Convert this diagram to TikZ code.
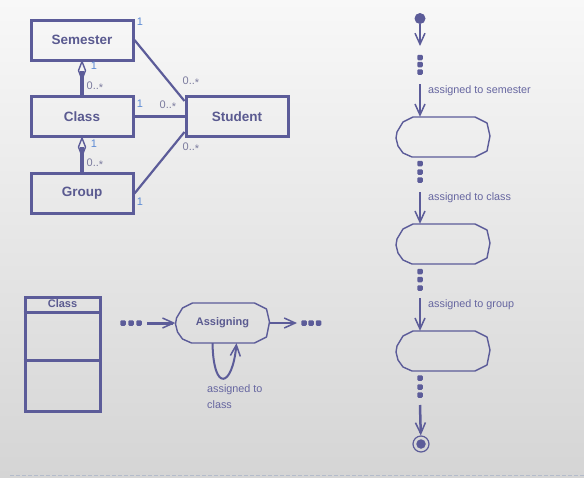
\documentclass[tikz,border=0pt]{standalone}
\usepackage{fontspec}
\setmainfont{Liberation Sans}
\usetikzlibrary{calc,positioning,arrows.meta}
\definecolor{umlline}{HTML}{5C5C99}
\definecolor{umltext}{HTML}{5A5A90}
\definecolor{multone}{HTML}{5B8AD4}
\definecolor{multmany}{HTML}{7B7B9E}
\definecolor{acttext}{HTML}{6666A0}
\definecolor{bgtop}{HTML}{F8F8F8}
\definecolor{bgbot}{HTML}{D5D5D5}
\definecolor{rule}{HTML}{B4BCCB}

\begin{document}
\begin{tikzpicture}[x=1pt,y=-1pt,
  classbox/.style={draw=umlline,line width=3pt,minimum width=102pt,minimum height=40pt,inner sep=0pt,text=umltext,font=\fontsize{13.5}{15}\selectfont\bfseries},
  assoc/.style={draw=umlline,line width=2.2pt},
  aggline/.style={draw=umlline,line width=3.2pt},
  one/.style={text=multone,font=\fontsize{11}{12}\selectfont,inner sep=0pt},
  many/.style={text=multmany,font=\fontsize{11}{12}\selectfont,inner sep=0pt},
  state/.style={minimum width=94pt,minimum height=40pt,inner sep=0pt,text=umltext,font=\fontsize{11}{12}\selectfont\bfseries},
  stateline/.style={draw=umlline,line width=1.4pt,line join=round},
  flow/.style={draw=umlline,line width=2.5pt,-{Straight Barb[length=11pt,width=10pt,line width=1.5pt]}},
  dot/.style={fill=umlline,minimum size=5.5pt,inner sep=0pt,rounded corners=1.2pt},
  actlabel/.style={text=acttext,font=\fontsize{10.8}{16}\selectfont,inner sep=0pt}]
\useasboundingbox (0,0) rectangle (584,477);
\shade[top color=bgtop,bottom color=bgbot] (0,0) rectangle (584,477);
\draw[rule,line width=1pt,dash pattern=on 4pt off 2pt] (10,475) -- (584,475);

% class diagram
\node[classbox] (sem) at (82,40) {Semester};
\node[classbox] (cls) at (82,116.5) {Class};
\node[classbox] (grp) at (82,193.5) {Group};
\node[classbox] (stu) at (237,116.5) {Student};
\draw[assoc] (sem.east) -- ([yshift=-6pt]stu.north west);
\draw[assoc] (cls.east) -- (stu.west);
\draw[assoc] (grp.east) -- ([yshift=6pt]stu.south west);
\draw[aggline] (cls.north) -- ($(sem.south)+(0,9)$);
\draw[stateline] (sem.south) -- ++(3.5,9) -- ++(-3.5,9) -- ++(-3.5,-9) -- cycle;
\draw[aggline] (grp.north) -- ($(cls.south)+(0,9)$);
\draw[stateline] (cls.south) -- ++(3.5,9) -- ++(-3.5,9) -- ++(-3.5,-9) -- cycle;
\node[one] (m1) at (140,22) {1};
\node[one] (m2) at (94,66) {1};
\node[many] (m3) at (95,87) {0..\raisebox{-2pt}{*}};
\node[one] (m4) at (140,104) {1};
\node[many] (m5) at (168,106) {0..\raisebox{-2pt}{*}};
\node[many] (m6) at (191,82) {0..\raisebox{-2pt}{*}};
\node[many] (m7) at (191,148) {0..\raisebox{-2pt}{*}};
\node[one] (m8) at (94,144) {1};
\node[many] (m9) at (95,164) {0..\raisebox{-2pt}{*}};
\node[one] (m10) at (140,202) {1};

% class with compartments
\node[draw=umlline,line width=3pt,minimum width=75pt,minimum height=114pt] (cbox) at (62.5,354) {};
\draw[draw=umlline,line width=3pt] ($(cbox.north west)+(0,17)$) -- ($(cbox.north east)+(0,17)$);
\draw[draw=umlline,line width=3pt] ($(cbox.north west)+(0,65)$) -- ($(cbox.north east)+(0,65)$);
\node[text=umltext,font=\fontsize{11}{12}\selectfont\bfseries,inner sep=0pt] (ctitle) at ($(cbox.north)+(0,8.5)$) {Class};

% state with self transition
\node[state] (asg) at (222.5,323) {Assigning};
\foreach \x [count=\i] in {123,131,139} \node[dot] (di\i) at (\x,323) {};
\foreach \x [count=\i] in {304,311,318.5} \node[dot] (do\i) at (\x,323) {};
\coordinate (in0) at (147,323);
\coordinate (out0) at (297,323);
\draw[flow,line width=3pt] (in0) -- (asg.west);
\draw[flow] (asg.east) -- (out0);
\draw[flow,line width=2pt] ([xshift=-10pt]asg.south) .. controls +(1,50) and +(-4,44) .. ([xshift=14pt]asg.south);
\node[actlabel,align=left,anchor=north west] (lbl0) at (207,384) {assigned to\\class};

% activity chain
\node[circle,fill=umlline,minimum size=11pt,inner sep=0pt] (init) at (420,18.5) {};
\node[state] (s1) at (443,137) {};
\node[state] (s2) at (443,244) {};
\node[state] (s3) at (443,351) {};
\node[circle,draw=umlline,line width=1.2pt,minimum size=16pt,inner sep=0pt] (final) at (421,444) {};
\node[circle,fill=umlline,minimum size=9.5pt,inner sep=0pt] (finalin) at (final) {};
\foreach \s in {asg,s1,s2,s3}
  \draw[stateline,shift={(\s)}] (-30,-20) -- (32,-20) -- (44,-14) -- (47,-1) -- (44,14) -- (32,20) -- (-31,20) -- (-40,16) -- (-45,9) -- (-47,1) -- (-46,-5) -- (-40,-15) -- cycle;
\foreach \y [count=\i] in {57.5,64.5,72} \node[dot] (da\i) at (420,\y) {};
\foreach \y [count=\i] in {163.5,172,180} \node[dot] (db\i) at (420,\y) {};
\foreach \y [count=\i] in {271.5,279.5,288} \node[dot] (dc\i) at (420,\y) {};
\foreach \y [count=\i] in {378,387,395} \node[dot] (dd\i) at (420,\y) {};
\coordinate (a0) at (420,46);
\coordinate (a1) at (420,84);
\coordinate (a2) at (420,192);
\coordinate (a3) at (420,298);
\coordinate (a4) at (420,405);
\draw[flow] (init) -- (a0);
\draw[flow] (a1) -- (s1.north -| a1);
\draw[flow] (a2) -- (s2.north -| a2);
\draw[flow] (a3) -- (s3.north -| a3);
\draw[flow] (a4) -- (final);
\node[actlabel,anchor=west] (lbl1) at (428,91) {assigned to semester};
\node[actlabel,anchor=west] (lbl2) at (428,198) {assigned to class};
\node[actlabel,anchor=west] (lbl3) at (428,305) {assigned to group};
\end{tikzpicture}
\end{document}
